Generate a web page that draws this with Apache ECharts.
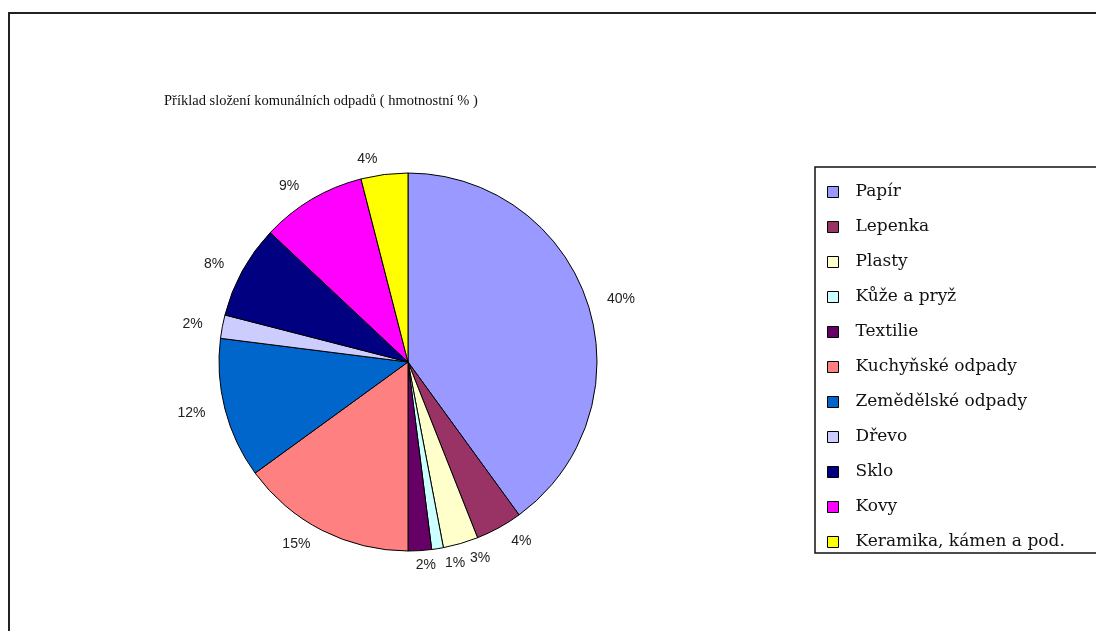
<!DOCTYPE html>
<html>
<head>
<meta charset="utf-8">
<script src="https://cdn.jsdelivr.net/npm/echarts@6/dist/echarts.min.js"></script>
<style>
html,body{margin:0;padding:0;background:#fff;}
#c{width:1096px;height:631px;}
</style>
</head>
<body>
<div id="c"></div>
<script>
const categories = ["Papír","Lepenka","Plasty","Kůže a pryž","Textilie","Kuchyňské odpady","Zemědělské odpady","Dřevo","Sklo","Kovy","Keramika, kámen a pod."];
const values = [40,4,3,1,2,15,12,2,8,9,4];
const colors = ["#9999FF","#993366","#FFFFCC","#CCFFFF","#660066","#FF8080","#0066CC","#CCCCFF","#000080","#FF00FF","#FFFF00"];
const titleText = "Příklad složení komunálních odpadů ( hmotnostní % )";

// mid-angle (degrees clockwise from 12 o'clock) of each slice, derived from the data
const total = values.reduce((a, b) => a + b, 0);
const midAngles = [];
values.reduce((acc, v) => { midAngles.push((acc + v / 2) / total * 360); return acc + v; }, 0);

const chart = echarts.init(document.getElementById('c'));
chart.setOption({
  backgroundColor: '#fff',
  animation: false,
  color: colors,
  title: {
    text: titleText,
    left: 159, top: 89,
    textStyle: {fontFamily: 'Liberation Serif', fontSize: 14.5, fontWeight: 'normal', color: '#111'}
  },
  graphic: [
    {type: 'rect', shape: {x: 9, y: 13, width: 1200, height: 700}, style: {fill: 'none', stroke: '#222', lineWidth: 2}, silent: true},
    {type: 'rect', shape: {x: 815, y: 167, width: 400, height: 386}, style: {fill: 'none', stroke: '#111', lineWidth: 1.5}, silent: true}
  ],
  legend: {
    orient: 'vertical',
    left: 822, top: 177,
    itemWidth: 11, itemHeight: 11,
    itemGap: 15,
    icon: 'rect',
    itemStyle: {borderColor: '#000', borderWidth: 1},
    textStyle: {fontFamily: 'DejaVu Serif', fontSize: 17, color: '#111', lineHeight: 20, padding: [0,0,0,12]},
    data: categories
  },
  series: [{
    type: 'pie',
    center: [408, 362],
    radius: 189,
    startAngle: 90,
    clockwise: true,
    avoidLabelOverlap: false,
    itemStyle: {borderColor: '#000', borderWidth: 1},
    label: {show: true, position: 'outside', formatter: '{d}%', fontFamily: 'Liberation Sans', fontSize: 14, color: '#222'},
    labelLine: {show: false, length: 15, length2: 0},
    labelLayout: function (p) {
      const m = midAngles[p.dataIndex];
      if (Math.abs(m - 180) < 5) return {hideOverlap: false, align: 'center'};
      return {hideOverlap: false};
    },
    emphasis: {disabled: true},
    data: categories.map((n, i) => ({name: n, value: values[i]}))
  }]
});
</script>
</body>
</html>
